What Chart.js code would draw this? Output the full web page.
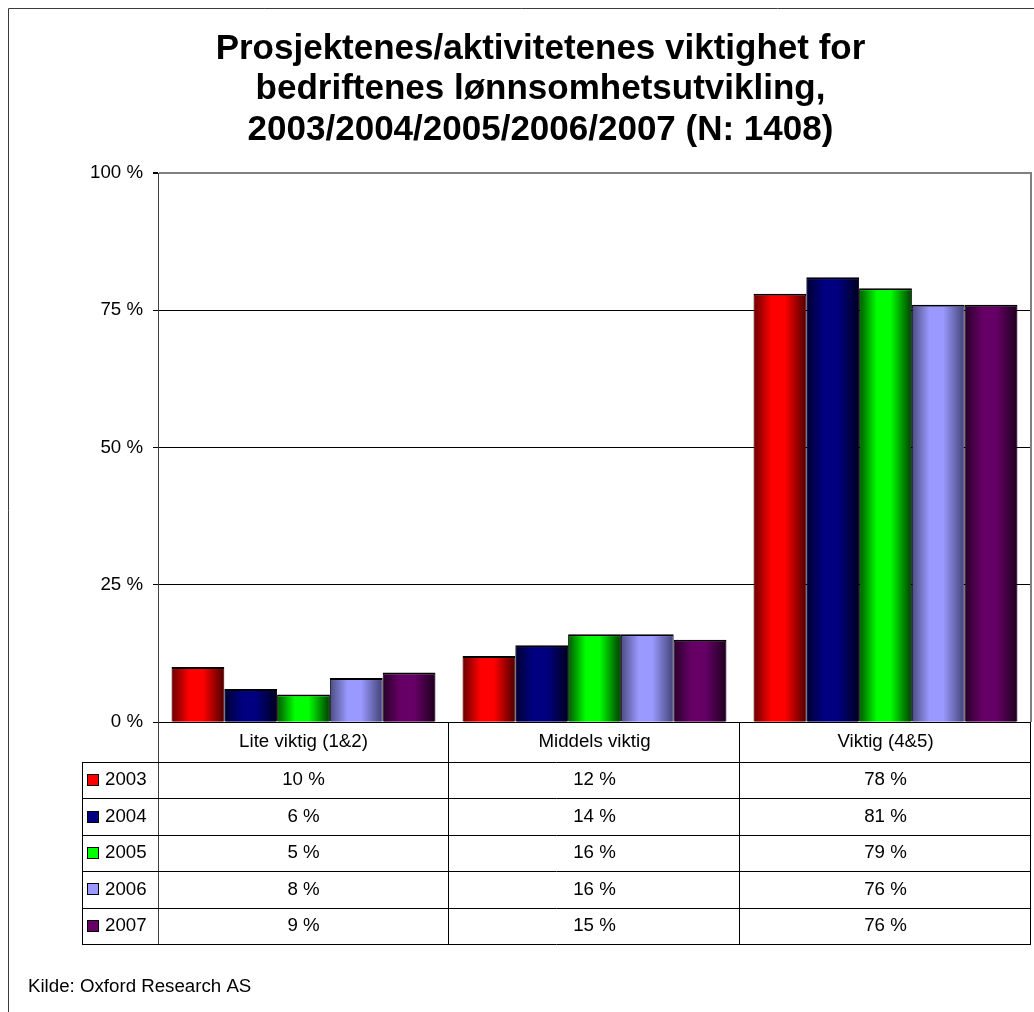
<!DOCTYPE html>
<html>
<head>
<meta charset="utf-8">
<title>Prosjektenes/aktivitetenes viktighet</title>
<script src="https://cdn.jsdelivr.net/npm/chart.js@4.4.1/dist/chart.umd.min.js"></script>
<style>
  html, body { margin: 0; padding: 0; background: #fff; }
  canvas { display: block; }
</style>
</head>
<body>
<canvas id="chart" width="1034" height="1012"></canvas>
<script>
// Categories and yearly shares (per cent)
const categories = ['Lite viktig (1&2)', 'Middels viktig', 'Viktig (4&5)'];
const years = ['2003', '2004', '2005', '2006', '2007'];
const v2003 = [10, 12, 78];
const v2004 = [6, 14, 81];
const v2005 = [5, 16, 79];
const v2006 = [8, 16, 76];
const v2007 = [9, 15, 76];
const seriesValues = [v2003, v2004, v2005, v2006, v2007];
const yTicks = [0, 25, 50, 75, 100];

const titleLines = [
  'Prosjektenes/aktivitetenes viktighet for',
  'bedriftenes lønnsomhetsutvikling,',
  '2003/2004/2005/2006/2007 (N: 1408)'
];
const sourceText = 'Kilde: Oxford Research AS';

// Base colour and edge shades for the cylinder-like bar shading
const baseColors = ['#FF0000', '#000080', '#00FF00', '#9999FF', '#660066'];
const edgeLeft   = ['#700000', '#000034', '#006000', '#505088', '#2c002c'];
const edgeRight  = ['#520000', '#000024', '#004400', '#45457a', '#200020'];

const FONT = "'Liberation Sans', Arial, sans-serif";
Chart.defaults.font.family = FONT;
Chart.defaults.color = '#000';

const BORDER = { top: 2, left: 1, right: 1, bottom: 0 };
const LEFT_PAD = 50;   // keeps the title centred on the chart object
const AXIS_LEFT = 158; // x position of the value axis

// White page background and outer frame
const backgroundPlugin = {
  id: 'pageBackground',
  beforeDraw(chart) {
    const c = chart.ctx;
    c.save();
    c.fillStyle = '#fff';
    c.fillRect(0, 0, chart.width, chart.height);
    c.restore();
  },
  afterDraw(chart) {
    const c = chart.ctx;
    c.save();
    c.strokeStyle = '#3a3a3a';
    c.lineWidth = 1;
    c.beginPath();
    c.moveTo(8.5, chart.height);
    c.lineTo(8.5, 8.5);
    c.lineTo(chart.width, 8.5);
    c.stroke();
    c.restore();
  }
};

// Horizontal shading inside each bar, using the bar geometry from the library
const shadingPlugin = {
  id: 'barShading',
  afterDatasetDraw(chart, args) {
    const c = chart.ctx;
    const i = args.index;
    c.save();
    args.meta.data.forEach(el => {
      const p = el.getProps(['x', 'y', 'base', 'width'], true);
      const left = p.x - p.width / 2 + BORDER.left;
      const right = p.x + p.width / 2 - BORDER.right;
      const top = p.y + BORDER.top;
      const h = p.base - top;
      if (h <= 0) return;
      const g = c.createLinearGradient(left, 0, right, 0);
      g.addColorStop(0, edgeLeft[i]);
      g.addColorStop(0.33, baseColors[i]);
      g.addColorStop(0.6, baseColors[i]);
      g.addColorStop(1, edgeRight[i]);
      c.fillStyle = g;
      c.fillRect(left, top, right - left, h);
    });
    c.restore();
  }
};

// Plot frame on the right, category row and data table below the plot, source line
const tablePlugin = {
  id: 'dataTable',
  afterDraw(chart) {
    const c = chart.ctx;
    const area = chart.chartArea;
    const xs = chart.scales.x;
    const n = categories.length;
    const step = (area.right - area.left) / n;
    const bounds = [];
    for (let k = 0; k <= n; k++) bounds.push(area.left + k * step);

    const headerTop = area.bottom;
    const headerH = 40;
    const tableTop = headerTop + headerH;
    const rowH = 36.4;
    const tableBottom = tableTop + rowH * years.length;
    const tableLeft = 82;

    c.save();
    // right plot frame
    c.strokeStyle = '#808080';
    c.lineWidth = 2;
    c.beginPath();
    c.moveTo(area.right, area.top - 1);
    c.lineTo(area.right, area.bottom);
    c.stroke();

    c.lineWidth = 1;
    // vertical lines for category columns
    c.strokeStyle = '#000';
    c.beginPath();
    for (let k = 1; k <= n; k++) {
      const x = Math.round(bounds[k]) - 0.5;
      c.moveTo(x, headerTop);
      c.lineTo(x, tableBottom);
    }
    c.stroke();
    // axis continuation through the table
    c.strokeStyle = '#404040';
    c.beginPath();
    c.moveTo(Math.round(area.left) + 0.5, headerTop);
    c.lineTo(Math.round(area.left) + 0.5, tableBottom);
    c.stroke();
    // table left edge and row lines
    c.strokeStyle = '#000';
    c.beginPath();
    c.moveTo(tableLeft + 0.5, tableTop);
    c.lineTo(tableLeft + 0.5, tableBottom);
    for (let r = 0; r <= years.length; r++) {
      const y = Math.round(tableTop + r * rowH) + 0.5;
      c.moveTo(tableLeft, y);
      c.lineTo(area.right, y);
    }
    c.stroke();

    // category labels
    c.fillStyle = '#000';
    c.font = '18.7px ' + FONT;
    c.textAlign = 'center';
    c.textBaseline = 'middle';
    categories.forEach((cat, k) => {
      const cx = xs.getPixelForValue(k);
      c.fillText(cat, cx, headerTop + headerH / 2);
    });

    // rows: legend key, year and values
    years.forEach((yr, r) => {
      const cy = tableTop + r * rowH + rowH / 2;
      c.fillStyle = baseColors[r];
      c.fillRect(87, Math.round(cy - 6), 12, 12);
      c.strokeStyle = '#000';
      c.lineWidth = 1;
      c.strokeRect(87.5, Math.round(cy - 6) + 0.5, 11, 11);
      c.fillStyle = '#000';
      c.textAlign = 'left';
      c.fillText(yr, 105, cy);
      c.textAlign = 'center';
      seriesValues[r].forEach((v, k) => {
        c.fillText(v + ' %', xs.getPixelForValue(k), cy);
      });
    });

    // source
    c.textAlign = 'left';
    c.fillText(sourceText, 28, 987);
    c.restore();
  }
};

const datasets = years.map((yr, i) => ({
  label: yr,
  data: seriesValues[i],
  backgroundColor: baseColors[i],
  borderColor: '#000',
  borderWidth: BORDER,
  borderSkipped: false,
  categoryPercentage: 0.907,
  barPercentage: 1
}));

new Chart(document.getElementById('chart'), {
  type: 'bar',
  data: { labels: categories, datasets },
  options: {
    responsive: false,
    animation: false,
    layout: { padding: { left: LEFT_PAD, right: 3, top: 0, bottom: 290 } },
    plugins: {
      legend: { display: false },
      tooltip: { enabled: false },
      title: {
        display: true,
        text: titleLines,
        color: '#000',
        font: { family: FONT, size: 35, weight: 'bold', lineHeight: 40.5 / 35 },
        padding: { top: 29, bottom: 22.5 }
      }
    },
    scales: {
      x: {
        display: false,
        offset: true
      },
      y: {
        min: 0,
        max: 100,
        afterBuildTicks(scale) { scale.ticks = yTicks.map(v => ({ value: v })); },
        afterFit(scale) { scale.width = AXIS_LEFT - LEFT_PAD; },
        ticks: {
          color: '#000',
          font: { family: FONT, size: 18.7 },
          padding: 10,
          callback: v => v + ' %'
        },
        grid: {
          color: ctx => (ctx.tick && ctx.tick.value === 100) ? '#808080' : '#000',
          lineWidth: ctx => (ctx.tick && ctx.tick.value === 100) ? 2 : 1,
          tickColor: '#000',
          tickLength: 5,
          drawTicks: true
        },
        border: { color: '#404040', width: 1 }
      }
    }
  },
  plugins: [backgroundPlugin, shadingPlugin, tablePlugin]
});
</script>
</body>
</html>
